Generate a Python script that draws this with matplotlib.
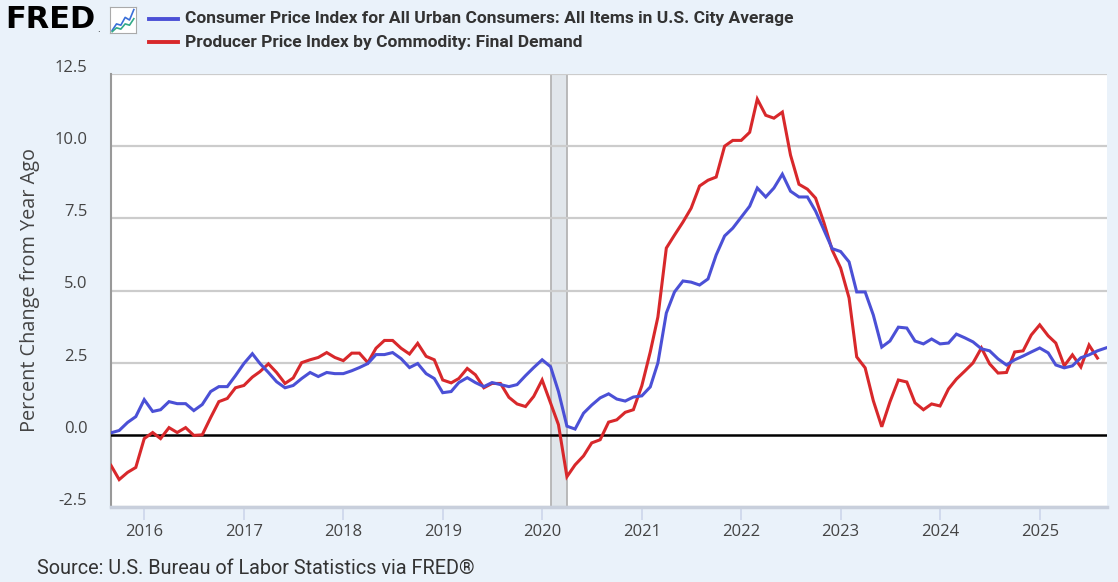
import numpy as np
import pandas as pd
import matplotlib
matplotlib.use("Agg")
import matplotlib.pyplot as plt
import matplotlib.dates as mdates
from matplotlib import font_manager
from matplotlib.transforms import ScaledTranslation
from matplotlib.lines import Line2D

# monthly year-over-year percent change, Sep 2015 onward
cpi_start = "2015-09-01"
cpi = [0.07, 0.15, 0.43, 0.63, 1.22, 0.81, 0.87, 1.15, 1.08, 1.08, 0.84, 1.05,
       1.50, 1.67, 1.67, 2.05, 2.47, 2.81, 2.47, 2.16, 1.84, 1.63, 1.71, 1.95,
       2.16, 2.02, 2.16, 2.12, 2.12, 2.22, 2.33, 2.47, 2.78, 2.78, 2.85, 2.64,
       2.33, 2.47, 2.12, 1.95, 1.46, 1.50, 1.81, 1.98, 1.81, 1.67, 1.81, 1.74,
       1.67, 1.74, 2.05, 2.33, 2.60, 2.36, 1.50, 0.30, 0.20, 0.75, 1.03, 1.28,
       1.42, 1.24, 1.17, 1.31, 1.35, 1.66, 2.49, 4.22, 4.95, 5.33, 5.29, 5.19,
       5.40, 6.23, 6.89, 7.16, 7.54, 7.92, 8.55, 8.24, 8.55, 9.03, 8.44, 8.24,
       8.24, 7.75, 7.09, 6.45, 6.35, 5.99, 4.95, 4.95, 4.15, 3.04, 3.25, 3.73,
       3.70, 3.25, 3.15, 3.32, 3.15, 3.18, 3.49, 3.36, 3.22, 2.98, 2.91, 2.63,
       2.42, 2.60, 2.73, 2.87, 3.01, 2.84, 2.42, 2.32, 2.39, 2.67, 2.77, 2.91,
       3.01]
ppi = [-1.06, -1.55, -1.30, -1.13, -0.13, 0.08, -0.13, 0.25, 0.08, 0.25, -0.02, 0.00,
       0.60, 1.15, 1.26, 1.63, 1.71, 2.00, 2.19, 2.46, 2.16, 1.78, 1.97, 2.50,
       2.60, 2.68, 2.85, 2.68, 2.57, 2.83, 2.83, 2.50, 3.00, 3.27, 3.27, 3.00,
       2.80, 3.17, 2.72, 2.60, 1.90, 1.80, 1.95, 2.30, 2.08, 1.63, 1.78, 1.78,
       1.30, 1.07, 0.98, 1.33, 1.90, 1.10, 0.35, -1.45, -1.04, -0.73, -0.28, -0.17,
       0.44, 0.52, 0.78, 0.87, 1.70, 2.87, 4.08, 6.47, 6.92, 7.37, 7.85, 8.62,
       8.82, 8.93, 10.00, 10.20, 10.20, 10.48, 11.63, 11.07, 10.97, 11.18, 9.69, 8.68,
       8.51, 8.20, 7.34, 6.40, 5.78, 4.74, 2.70, 2.32, 1.18, 0.28, 1.14, 1.90,
       1.83, 1.11, 0.87, 1.07, 1.00, 1.59, 1.93, 2.21, 2.49, 3.01, 2.46, 2.14,
       2.16, 2.87, 2.91, 3.46, 3.81, 3.43, 3.18, 2.39, 2.77, 2.35, 3.11, 2.66]

recession = ("2020-02-01", "2020-04-01")
y_ticks = [-2.5, 0.0, 2.5, 5.0, 7.5, 10.0, 12.5]
x_years = list(range(2016, 2026))

cpi_label = "Consumer Price Index for All Urban Consumers: All Items in U.S. City Average"
ppi_label = "Producer Price Index by Commodity: Final Demand"
y_title = "Percent Change from Year Ago"
source = "Source: U.S. Bureau of Labor Statistics via FRED®"

# little FRED chart icon
icon_blue = [0.1, 0.35, 0.3, 0.6, 0.5, 0.9]
icon_green = [0.05, 0.2, 0.15, 0.35, 0.3, 0.55]

cpi_dates = pd.date_range(cpi_start, periods=len(cpi), freq="MS")
ppi_dates = pd.date_range(cpi_start, periods=len(ppi), freq="MS")

names = {f.name for f in font_manager.fontManager.ttflist}
tick_font = "Open Sans" if "Open Sans" in names else "DejaVu Sans"
legend_font = "Liberation Sans Narrow" if "Liberation Sans Narrow" in names else "Roboto"
src_font = "Roboto" if "Roboto" in names else "DejaVu Sans"

BG = "#eaf2fa"
BLUE = "#4b50d6"
RED = "#d8282b"

fig = plt.figure(figsize=(11.18, 5.82), dpi=100, facecolor=BG)
ax = fig.add_axes([111 / 1118, 1 - 507 / 582, 996 / 1118, 433 / 582])
ax.set_facecolor("white")

ax.axvspan(pd.Timestamp(recession[0]), pd.Timestamp(recession[1]),
           facecolor="#e1e6eb", edgecolor="#b4b4b4", linewidth=1.3, zorder=1)

for v in y_ticks:
    if v != 0.0:
        ax.axhline(v, color="#cccccc", linewidth=1.6, zorder=2)
ax.axhline(0.0, color="black", linewidth=1.8, zorder=3)

ax.plot(cpi_dates, cpi, color=BLUE, linewidth=2.2, zorder=5, solid_joinstyle="miter")
ax.plot(ppi_dates, ppi, color=RED, linewidth=2.2, zorder=4, solid_joinstyle="miter")

ax.set_xlim(pd.Timestamp("2015-09-01"), pd.Timestamp("2025-09-05"))
ax.set_ylim(-2.5, 12.5)

ax.set_yticks(y_ticks)
ax.set_yticklabels([f"{v:.1f}" for v in y_ticks], fontsize=12, family=tick_font, color="#444444")
ax.tick_params(axis="y", length=0, pad=17)
off = ScaledTranslation(0, 0.08, fig.dpi_scale_trans)
for lab in ax.get_yticklabels():
    lab.set_transform(lab.get_transform() + off)

ax.set_xticks([pd.Timestamp(f"{y}-01-01") for y in x_years])
ax.xaxis.set_major_formatter(mdates.DateFormatter("%Y"))
ax.tick_params(axis="x", length=9, width=1.2, color="#ccd6eb", pad=3,
               labelsize=12, labelcolor="#444444")
for lab in ax.get_xticklabels():
    lab.set_family(tick_font)

ax.spines["top"].set_visible(False)
ax.spines["right"].set_visible(False)
ax.spines["left"].set_color("#999999")
ax.spines["left"].set_linewidth(1.5)
ax.spines["bottom"].set_color("#c8cfdc")
ax.spines["bottom"].set_linewidth(2.5)

ax.set_ylabel(y_title, fontsize=14.3, family=tick_font, color="#444444", labelpad=10)

# header: FRED logo + legend
fig.text(5 / 1118, 1 - 20 / 582, "FRED", fontsize=22, fontweight="heavy",
         family="DejaVu Sans", color="black", va="center", ha="left")
fig.text(97 / 1118, 1 - 29 / 582, ".", fontsize=6, color="black", va="center")
iax = fig.add_axes([110 / 1118, 1 - 33 / 582, 26 / 1118, 26 / 582])
iax.plot(icon_blue, color="#3a6fd8", linewidth=1.2)
iax.plot(icon_green, color="#33aa88", linewidth=1.2)
iax.set_xlim(-0.5, 5.5)
iax.set_ylim(0, 1)
iax.set_xticks([])
iax.set_yticks([])
for s in iax.spines.values():
    s.set_color("#aaaaaa")
    s.set_linewidth(0.8)

for yy, col, txt in [(19, BLUE, cpi_label), (42, RED, ppi_label)]:
    fig.add_artist(Line2D([149 / 1118, 178 / 1118], [1 - yy / 582, 1 - yy / 582],
                          color=col, linewidth=2.8))
    fig.text(185 / 1118, 1 - yy / 582, txt, fontsize=12.5, fontweight="bold",
             family=legend_font, color="#333333", va="center", ha="left")

fig.text(37 / 1118, 1 - 568 / 582, source, fontsize=14.3, family=src_font,
         color="#333333", va="center", ha="left")

fig.savefig("out.png", dpi=100, facecolor=BG)
